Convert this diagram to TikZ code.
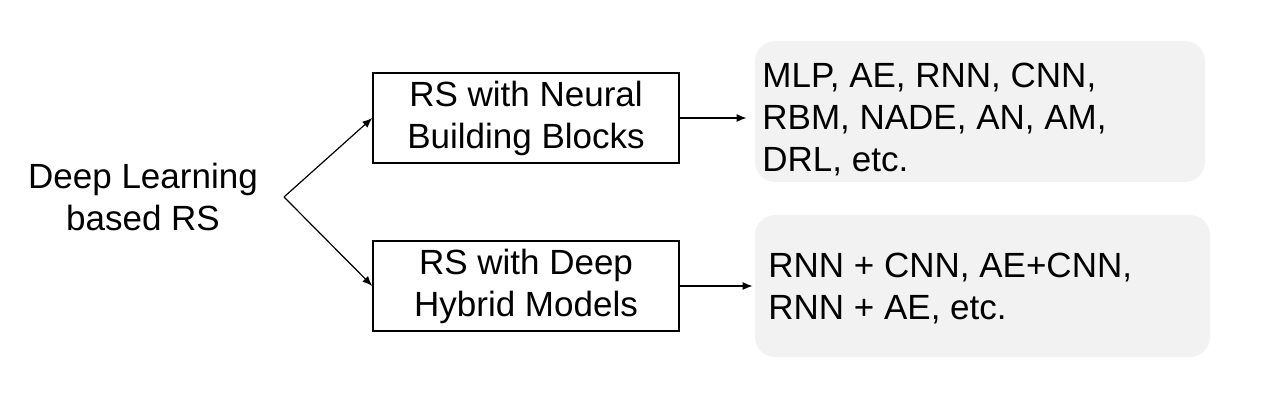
\documentclass[tikz,border=0pt]{standalone}
\usepackage{fontspec}
\setmainfont{Liberation Sans}
\usepackage{xcolor}
\usetikzlibrary{arrows.meta}
\definecolor{listgray}{RGB}{242,242,243}

\tikzset{
  bigfont/.style={font=\fontsize{17.5pt}{21pt}\selectfont},
  block/.style={draw, line width=0.7pt, minimum width=153pt, minimum height=45pt, align=center, inner sep=0pt},
  listbox/.style={fill=listgray, rounded corners=10pt, inner sep=0pt},
  listtext/.style={align=left, inner sep=0pt, anchor=north west}
}

\begin{document}
\begin{tikzpicture}[x=0.5pt, y=-0.5pt, bigfont, >={Latex[length=5pt,width=4pt]}]
\useasboundingbox (0,0) rectangle (1278,406);
\node[align=center] (dl) at (143,197) {Deep Learning\\based RS};
\coordinate (split) at (284,197);
\node[block] (nb) at (526,118) {RS with Neural\\Building Blocks};
\node[block] (hm) at (526,286) {RS with Deep\\Hybrid Models};
% grey boxes with the model lists
\node[listbox, minimum width=225pt, minimum height=70.5pt] (nbbg) at (980,111.5) {};
\node[listbox, minimum width=227.5pt, minimum height=71pt] (hmbg) at (982.5,286) {};
\node[listtext] (nblist) at (762,63) {MLP, AE, RNN, CNN,\\RBM, NADE, AN, AM,\\DRL, etc.};
\node[listtext] (hmlist) at (768,253) {RNN + CNN, AE+CNN,\\RNN + AE, etc.};
\draw[->, line width=0.6pt] (split) -- (nb.west);
\draw[->, line width=0.6pt] (split) -- (hm.west);
\draw[->, line width=0.6pt, shorten >=4pt] (nb.east) -- (nb.east -| nbbg.west);
\draw[->, line width=0.6pt, shorten >=1pt] (hm.east) -- (hm.east -| hmbg.west);
\end{tikzpicture}
\end{document}
